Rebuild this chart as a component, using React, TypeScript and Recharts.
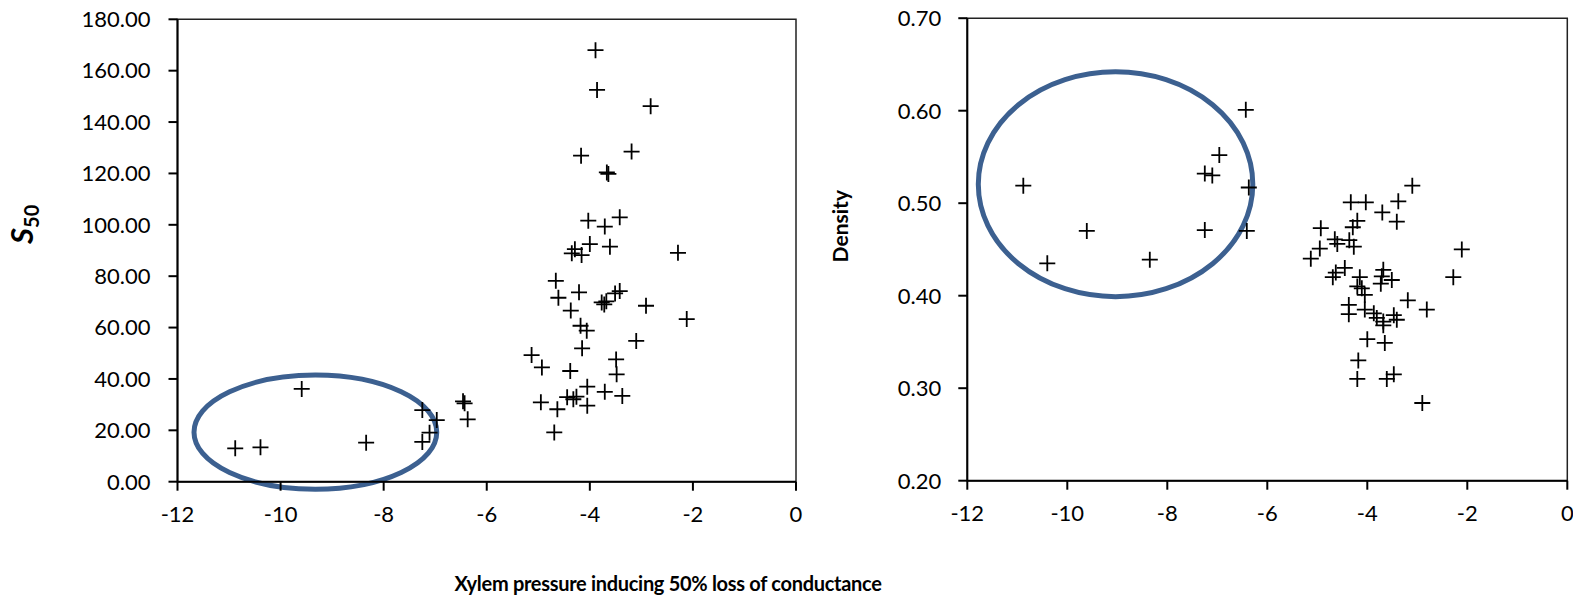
import React from "react"
import { ScatterChart, Scatter, XAxis, YAxis, ReferenceArea, Label } from "recharts"

// left panel: S50 vs xylem pressure
const leftPressure = [
  -10.88, -10.39, -9.59, -8.34, -7.25, -6.97, -7.11, -7.25, -6.46, -6.43, -6.37,
  -3.89, -3.86, -2.82, -4.17, -3.19, -3.67, -3.64, -4.03, -3.71, -3.42,
  -4.29, -4.16, -4.0, -3.61, -4.35, -2.29, -4.66, -4.61, -4.21, -4.37,
  -3.77, -3.72, -3.68, -3.51, -3.42, -2.91, -2.12, -4.18, -4.06, -3.1,
  -4.15, -5.13, -4.93, -4.38, -3.49, -3.48, -4.05, -3.71, -3.37, -4.44,
  -4.32, -4.26, -4.05, -4.95, -4.63, -4.69,
]
const leftS50 = [
  13.0, 13.4, 36.1, 15.2, 27.9, 24.0, 19.1, 15.5, 31.3, 30.5, 24.3,
  168.0, 152.5, 146.2, 126.9, 128.5, 120.4, 119.8, 101.6, 99.3, 102.9,
  90.5, 88.2, 92.5, 91.5, 88.9, 89.1, 78.2, 71.6, 73.7, 66.6,
  69.8, 69.0, 70.2, 73.3, 74.2, 68.5, 63.3, 60.7, 58.8, 54.8,
  51.9, 49.3, 44.5, 43.1, 47.6, 41.8, 37.0, 35.0, 33.4, 32.9,
  32.1, 33.1, 29.6, 30.9, 28.2, 19.2,
]

// right panel: density vs xylem pressure
const rightPressure = [
  -10.88, -10.4, -9.61, -8.35, -7.25, -7.25, -7.1, -6.96, -6.43, -6.37, -6.41,
  -3.1, -4.33, -4.03, -3.38, -3.7, -3.41, -4.2, -4.29, -4.93, -4.65,
  -4.6, -4.36, -4.27, -4.95, -5.13, -2.11, -2.28, -4.45, -4.63, -4.69,
  -4.15, -4.2, -3.68, -3.71, -3.51, -3.73, -4.05, -4.11, -3.19, -2.81,
  -4.37, -4.37, -4.05, -3.87, -3.81, -3.68, -3.47, -3.41, -3.68, -4.0,
  -3.65, -4.18, -4.2, -3.61, -3.47, -2.9,
]
const rightDensity = [
  0.519, 0.435, 0.47, 0.439, 0.471, 0.532, 0.53, 0.552, 0.601, 0.517, 0.47,
  0.519, 0.501, 0.501, 0.502, 0.49, 0.48, 0.481, 0.474, 0.473, 0.461,
  0.456, 0.46, 0.453, 0.451, 0.44, 0.45, 0.42, 0.43, 0.425, 0.42,
  0.42, 0.41, 0.428, 0.421, 0.417, 0.413, 0.401, 0.408, 0.395, 0.385,
  0.39, 0.38, 0.385, 0.381, 0.376, 0.372, 0.379, 0.374, 0.368, 0.353,
  0.349, 0.33, 0.31, 0.31, 0.315, 0.284,
]

const xTicks = [-12, -10, -8, -6, -4, -2, 0]
const leftTicks = [0, 20, 40, 60, 80, 100, 120, 140, 160, 180]
const rightTicks = [0.2, 0.3, 0.4, 0.5, 0.6, 0.7]

// circled groups: [x1, x2, y1, y2]
const leftCircle = [-11.68, -6.97, -2.96, 41.5]
const rightCircle = [-11.78, -6.29, 0.399, 0.642]

const FONT = "Lato, 'Open Sans', sans-serif"
const CIRCLE = "#3c6090"

const leftData = leftPressure.map((x, i) => ({ x, y: leftS50[i] }))
const rightData = rightPressure.map((x, i) => ({ x, y: rightDensity[i] }))

const Cross = (props: any) => {
  const { cx, cy } = props
  if (cx == null || cy == null) return null
  return <path d={`M${cx - 8},${cy}h16M${cx},${cy - 8}v16`} stroke="#000" strokeWidth={1.8} fill="none" />
}

const Ellipse = (props: any) => {
  const { x, y, width, height } = props
  return (
    <ellipse
      cx={x + width / 2}
      cy={y + height / 2}
      rx={Math.abs(width) / 2}
      ry={Math.abs(height) / 2}
      fill="none"
      stroke={CIRCLE}
      strokeWidth={5}
    />
  )
}

const tickStyle = { fontFamily: FONT, fontSize: 22, fill: "#000" }

const S50Label = (props: any) => {
  const vb = props.viewBox || { x: 0, y: 0 }
  const x = vb.x + 33
  const y = vb.y + 205
  return (
    <text
      x={x}
      y={y}
      transform={`rotate(-90, ${x}, ${y})`}
      textAnchor="middle"
      fontFamily={FONT}
      fontWeight="bold"
      fill="#000"
    >
      <tspan fontSize={31} fontStyle="italic">S</tspan>
      <tspan fontSize={20} dy={6}>50</tspan>
    </text>
  )
}

const DensityLabel = (props: any) => {
  const vb = props.viewBox || { x: 0, y: 0 }
  const x = vb.x + 48
  const y = vb.y + 208
  return (
    <text
      x={x}
      y={y}
      transform={`rotate(-90, ${x}, ${y})`}
      textAnchor="middle"
      fontFamily={FONT}
      fontWeight="bold"
      fontSize={21}
      fill="#000"
    >
      Density
    </text>
  )
}

export default function App() {
  return (
    <div style={{ position: "absolute", left: 0, top: 0, width: 1573, height: 600, background: "#fff" }}>
      <div style={{ position: "absolute", left: 0, top: 0 }}>
        <ScatterChart width={820} height={600} margin={{ top: 19.3, right: 24, bottom: 0, left: 0 }}>
          <XAxis
            type="number"
            dataKey="x"
            domain={[-12, 0]}
            ticks={xTicks}
            height={118.3}
            tickSize={9}
            tickMargin={16}
            tick={tickStyle}
            axisLine={{ stroke: "#000", strokeWidth: 2 }}
            tickLine={{ stroke: "#000", strokeWidth: 2 }}
          />
          <YAxis
            type="number"
            dataKey="y"
            domain={[0, 180]}
            ticks={leftTicks}
            width={177.5}
            tickSize={9}
            tickMargin={18}
            tick={tickStyle}
            tickFormatter={(v: number) => v.toFixed(2)}
            axisLine={{ stroke: "#000", strokeWidth: 2 }}
            tickLine={{ stroke: "#000", strokeWidth: 2 }}
          >
            <Label content={<S50Label />} />
          </YAxis>
          <ReferenceArea x1={-12} x2={0} y1={0} y2={180} fill="none" stroke="#222" strokeWidth={1.5} />
          <Scatter data={leftData} shape={<Cross />} isAnimationActive={false} />
          <ReferenceArea
            x1={leftCircle[0]}
            x2={leftCircle[1]}
            y1={leftCircle[2]}
            y2={leftCircle[3]}
            ifOverflow="visible"
            shape={<Ellipse />}
          />
        </ScatterChart>
      </div>
      <div style={{ position: "absolute", left: 800, top: 0 }}>
        <ScatterChart width={773} height={600} margin={{ top: 18.2, right: 5.7, bottom: 0, left: 0 }}>
          <XAxis
            type="number"
            dataKey="x"
            domain={[-12, 0]}
            ticks={xTicks}
            height={119.3}
            tickSize={9}
            tickMargin={16}
            tick={tickStyle}
            axisLine={{ stroke: "#000", strokeWidth: 2 }}
            tickLine={{ stroke: "#000", strokeWidth: 2 }}
          />
          <YAxis
            type="number"
            dataKey="y"
            domain={[0.2, 0.7]}
            ticks={rightTicks}
            width={167.3}
            tickSize={9}
            tickMargin={17}
            tick={tickStyle}
            tickFormatter={(v: number) => v.toFixed(2)}
            axisLine={{ stroke: "#000", strokeWidth: 2 }}
            tickLine={{ stroke: "#000", strokeWidth: 2 }}
          >
            <Label content={<DensityLabel />} />
          </YAxis>
          <ReferenceArea x1={-12} x2={0} y1={0.2} y2={0.7} fill="none" stroke="#222" strokeWidth={1.5} />
          <Scatter data={rightData} shape={<Cross />} isAnimationActive={false} />
          <ReferenceArea
            x1={rightCircle[0]}
            x2={rightCircle[1]}
            y1={rightCircle[2]}
            y2={rightCircle[3]}
            ifOverflow="visible"
            shape={<Ellipse />}
          />
        </ScatterChart>
      </div>
      <div
        style={{
          position: "absolute",
          left: 368,
          top: 568,
          width: 600,
          textAlign: "center",
          fontFamily: FONT,
          fontWeight: "bold",
          fontSize: 20,
          letterSpacing: "-0.3px",
          lineHeight: "30px",
          color: "#000",
          whiteSpace: "nowrap",
        }}
      >
        Xylem pressure inducing 50% loss of conductance
      </div>
    </div>
  )
}
